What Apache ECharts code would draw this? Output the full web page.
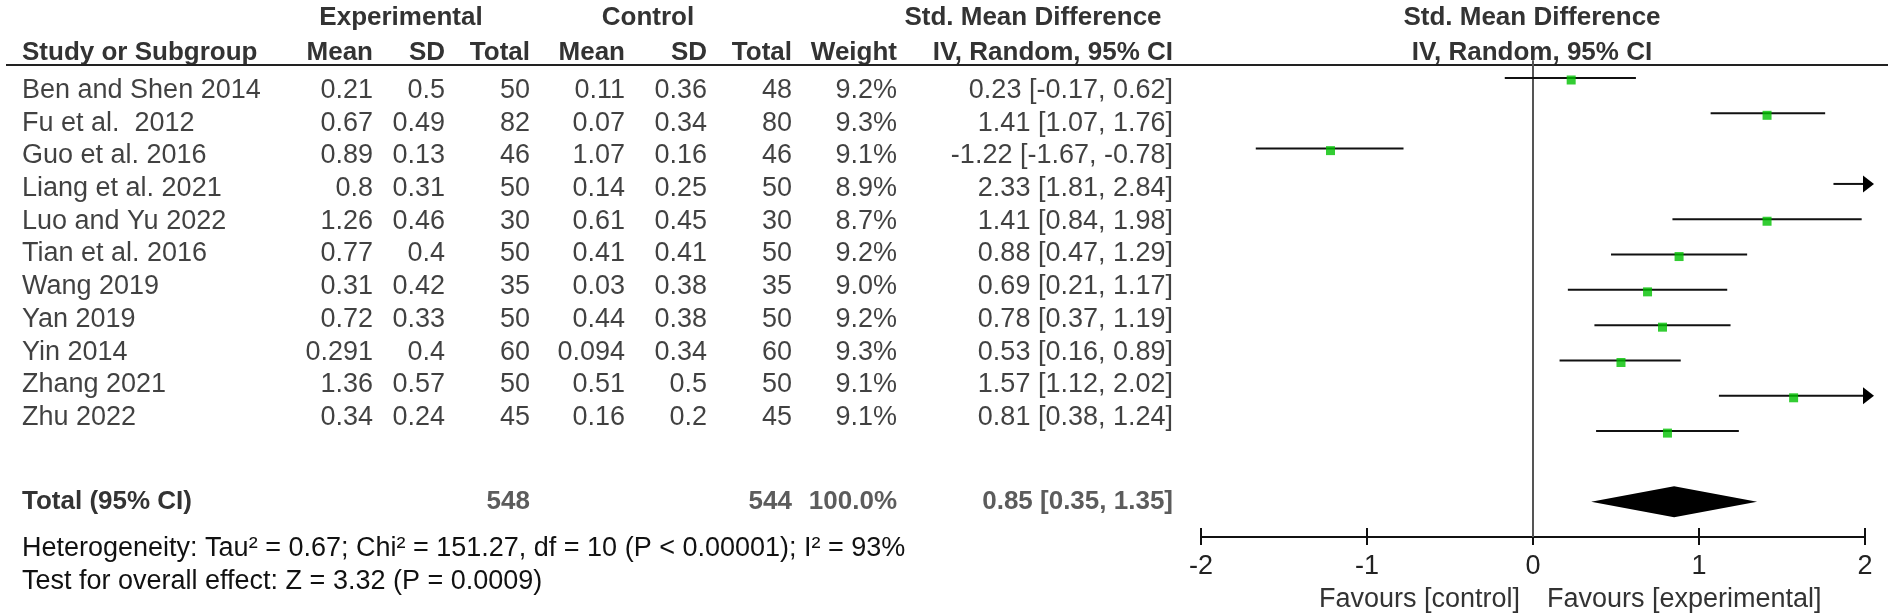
<!DOCTYPE html>
<html>
<head>
<meta charset="utf-8">
<script src="https://cdn.jsdelivr.net/npm/echarts@6/dist/echarts.min.js"></script>
<style>html,body{margin:0;padding:0;background:#fff}#c{width:1900px;height:615px}</style>
</head>
<body>
<div id="c"></div>
<script>
// ---------- data ----------
const studies = ['Ben and Shen 2014','Fu et al.  2012','Guo et al. 2016','Liang et al. 2021','Luo and Yu 2022','Tian et al. 2016','Wang 2019','Yan 2019','Yin 2014','Zhang 2021','Zhu 2022'];
const expMean = [0.21, 0.67, 0.89, 0.8, 1.26, 0.77, 0.31, 0.72, 0.291, 1.36, 0.34];
const expSD   = [0.5, 0.49, 0.13, 0.31, 0.46, 0.4, 0.42, 0.33, 0.4, 0.57, 0.24];
const expN    = [50, 82, 46, 50, 30, 50, 35, 50, 60, 50, 45];
const ctlMean = [0.11, 0.07, 1.07, 0.14, 0.61, 0.41, 0.03, 0.44, 0.094, 0.51, 0.16];
const ctlSD   = [0.36, 0.34, 0.16, 0.25, 0.45, 0.41, 0.38, 0.38, 0.34, 0.5, 0.2];
const ctlN    = [48, 80, 46, 50, 30, 50, 35, 50, 60, 50, 45];
const weight  = [9.2, 9.3, 9.1, 8.9, 8.7, 9.2, 9.0, 9.2, 9.3, 9.1, 9.1];
const smd     = [0.23, 1.41, -1.22, 2.33, 1.41, 0.88, 0.69, 0.78, 0.53, 1.57, 0.81];
const ciLow   = [-0.17, 1.07, -1.67, 1.81, 0.84, 0.47, 0.21, 0.37, 0.16, 1.12, 0.38];
const ciHigh  = [0.62, 1.76, -0.78, 2.84, 1.98, 1.29, 1.17, 1.19, 0.89, 2.02, 1.24];
const totalExpN = 548;
const totalCtlN = 544;
const totalWeight = 100.0;
const totalSmd = 0.85;
const totalLow = 0.35;
const totalHigh = 1.35;
const xTicks = [-2, -1, 0, 1, 2];
const heterogeneityText = 'Heterogeneity: Tau² = 0.67; Chi² = 151.27, df = 10 (P < 0.00001); I² = 93%';
const overallText = 'Test for overall effect: Z = 3.32 (P = 0.0009)';
const favourLeft = 'Favours [control]';
const favourRight = 'Favours [experimental]';

// ---------- layout ----------
const ROW0 = 78, ROWH = 35.31, H = 615, W = 1900;      // plot rows
const TROW0 = 90.5, TROWH = 32.7;                        // table text rows
const TOTAL_ROW = studies.length + 1;
const FF = '"Liberation Sans", Arial, Helvetica, sans-serif';
const FS = 27, FSB = 26;
const plotLeft = 1201, plotRight = 1865;
const rowToPx = r => ROW0 + r * ROWH;
const pxToTRow = p => (p - TROW0) / TROWH;
const col = { study: 22, eMean: 373, eSD: 445, eN: 530, cMean: 625, cSD: 707, cN: 792, w: 897, ci: 1173 };
const Y = { head1: 18, head2: 53, rule: 65, total: 502, het: 549, test: 582, favour: 600 };

const f2 = v => v.toFixed(2);
const ciText = (m, l, h) => f2(m) + ' [' + f2(l) + ', ' + f2(h) + ']';

function textCol(values, x, align, fmt) {
  return {
    type: 'scatter', xAxisIndex: 2, yAxisIndex: 1, symbolSize: 0, silent: true, clip: false,
    data: values.map((v, i) => ({ name: fmt ? fmt(v, i) : String(v), value: [x, i] })),
    label: { show: true, position: 'inside', formatter: '{b}', align: align, verticalAlign: 'middle',
      color: '#111', fontSize: FS, fontFamily: FF }
  };
}
function totalCell(text, x, align) {
  return {
    type: 'scatter', xAxisIndex: 2, yAxisIndex: 1, symbolSize: 0, silent: true, clip: false,
    data: [{ name: text, value: [x, pxToTRow(Y.total)] }],
    label: { show: true, position: 'inside', formatter: '{b}', align: align, verticalAlign: 'middle',
      color: '#333', fontSize: FSB, fontFamily: FF, fontWeight: 'bold' }
  };
}
function gtext(text, x, y, align, bold, color, size) {
  return { type: 'text', x: x, y: y, silent: true,
    style: { text: text, font: (bold ? 'bold ' : '') + (size || FS) + 'px ' + FF, fill: color || '#333',
      align: align, textAlign: align, verticalAlign: 'middle', textVerticalAlign: 'middle' } };
}
const hd = (t, x, y, a) => gtext(t, x, y, a, true, '#333', FSB);

const chart = echarts.init(document.getElementById('c'), null, { renderer: 'canvas' });

const option = {
  animation: false,
  backgroundColor: '#fff',
  grid: [
    { left: plotLeft, width: plotRight - plotLeft, top: rowToPx(-0.5), height: rowToPx(13) - rowToPx(-0.5) },
    { left: 0, top: 0, width: W, height: H }
  ],
  xAxis: [
    { type: 'value', gridIndex: 0, position: 'bottom', min: xTicks[0], max: xTicks[xTicks.length - 1], interval: 1,
      splitLine: { show: false },
      axisLine: { show: true, onZero: false, lineStyle: { color: '#111', width: 2 } },
      axisTick: { show: true, length: 8, lineStyle: { color: '#111', width: 2 } },
      axisLabel: { show: true, margin: 16, color: '#222', fontSize: FS, fontFamily: FF,
        formatter: v => String(v) } },
    { type: 'value', gridIndex: 0, position: 'bottom', min: xTicks[0], max: xTicks[xTicks.length - 1], interval: 1,
      splitLine: { show: false }, axisLine: { show: false, onZero: false }, axisLabel: { show: false },
      axisTick: { show: true, inside: true, length: 9, lineStyle: { color: '#111', width: 2 } } },
    { type: 'value', gridIndex: 1, min: 0, max: W, show: false }
  ],
  yAxis: [
    { type: 'value', gridIndex: 0, inverse: true, min: -0.5, max: 13, show: false },
    { type: 'value', gridIndex: 1, inverse: true, min: pxToTRow(0), max: pxToTRow(H), show: false }
  ],
  graphic: [
    hd('Experimental', 401, Y.head1, 'center'),
    hd('Control', 648, Y.head1, 'center'),
    hd('Std. Mean Difference', 1033, Y.head1, 'center'),
    hd('Std. Mean Difference', 1532, Y.head1, 'center'),
    hd('Study or Subgroup', col.study, Y.head2, 'left'),
    hd('Mean', col.eMean, Y.head2, 'right'),
    hd('SD', col.eSD, Y.head2, 'right'),
    hd('Total', col.eN, Y.head2, 'right'),
    hd('Mean', col.cMean, Y.head2, 'right'),
    hd('SD', col.cSD, Y.head2, 'right'),
    hd('Total', col.cN, Y.head2, 'right'),
    hd('Weight', col.w, Y.head2, 'right'),
    hd('IV, Random, 95% CI', col.ci, Y.head2, 'right'),
    hd('IV, Random, 95% CI', 1532, Y.head2, 'center'),
    { type: 'line', silent: true, shape: { x1: 6, y1: Y.rule, x2: 1888, y2: Y.rule }, style: { stroke: '#222', lineWidth: 2 } },
    gtext('Total (95% CI)', col.study, Y.total, 'left', true, '#333', FSB),
    gtext(heterogeneityText, col.study, Y.het, 'left', false, '#111'),
    gtext(overallText, col.study, Y.test, 'left', false, '#111'),
    gtext(favourLeft, 1520, Y.favour, 'right', false, '#333'),
    gtext(favourRight, 1547, Y.favour, 'left', false, '#333')
  ],
  series: [
    // zero line
    { type: 'line', xAxisIndex: 0, yAxisIndex: 0, data: [[0, -0.5], [0, 13]], symbol: 'none', silent: true,
      lineStyle: { color: '#555', width: 2 }, z: 1 },
    // CI lines
    { type: 'custom', xAxisIndex: 0, yAxisIndex: 0, clip: false, silent: true, z: 2,
      data: smd.map((v, i) => [ciLow[i], ciHigh[i], i]),
      encode: { x: [0, 1], y: 2 },
      renderItem: function (params, api) {
        const lo = api.value(0), hi = api.value(1), r = api.value(2);
        const xMin = xTicks[0], xMax = xTicks[xTicks.length - 1];
        const a = Math.max(lo, xMin), b = Math.min(hi, xMax);
        const p1 = api.coord([a, r]), p2 = api.coord([b, r]);
        const ch = [{ type: 'line', shape: { x1: p1[0], y1: p1[1], x2: p2[0], y2: p2[1] },
          style: { stroke: '#111', lineWidth: 2 } }];
        if (hi > xMax) ch.push({ type: 'polygon', shape: { points: [[p2[0] - 2, p2[1] - 8.5], [p2[0] + 9, p2[1]], [p2[0] - 2, p2[1] + 8.5]] },
          style: { fill: '#000' } });
        if (lo < xMin) ch.push({ type: 'polygon', shape: { points: [[p1[0] + 2, p1[1] - 8.5], [p1[0] - 9, p1[1]], [p1[0] + 2, p1[1] + 8.5]] },
          style: { fill: '#000' } });
        return { type: 'group', children: ch };
      } },
    // point estimates
    { type: 'scatter', xAxisIndex: 0, yAxisIndex: 0, clip: true, silent: true, z: 3,
      data: smd.map((v, i) => [v, i]), symbol: 'rect', symbolSize: 9, symbolOffset: [0, 2],
      itemStyle: { color: '#00C000' } },
    // diamond
    { type: 'custom', xAxisIndex: 0, yAxisIndex: 0, clip: false, silent: true, z: 3,
      data: [[totalLow, totalSmd, totalHigh, TOTAL_ROW]],
      encode: { x: [0, 1, 2], y: 3 },
      renderItem: function (params, api) {
        const r = api.value(3);
        const L = api.coord([api.value(0), r]), M = api.coord([api.value(1), r]), R = api.coord([api.value(2), r]);
        return { type: 'polygon', shape: { points: [L, [M[0], M[1] - 15.5], R, [M[0], M[1] + 15.5]] },
          style: { fill: '#000' } };
      } },
    // table columns
    textCol(studies, col.study, 'left'),
    textCol(expMean, col.eMean, 'right'),
    textCol(expSD, col.eSD, 'right'),
    textCol(expN, col.eN, 'right'),
    textCol(ctlMean, col.cMean, 'right'),
    textCol(ctlSD, col.cSD, 'right'),
    textCol(ctlN, col.cN, 'right'),
    textCol(weight, col.w, 'right', v => v.toFixed(1) + '%'),
    textCol(smd, col.ci, 'right', (v, i) => ciText(v, ciLow[i], ciHigh[i])),
    totalCell(String(totalExpN), col.eN, 'right'),
    totalCell(String(totalCtlN), col.cN, 'right'),
    totalCell(totalWeight.toFixed(1) + '%', col.w, 'right'),
    totalCell(ciText(totalSmd, totalLow, totalHigh), col.ci, 'right')
  ]
};
chart.setOption(option);
</script>
</body>
</html>
